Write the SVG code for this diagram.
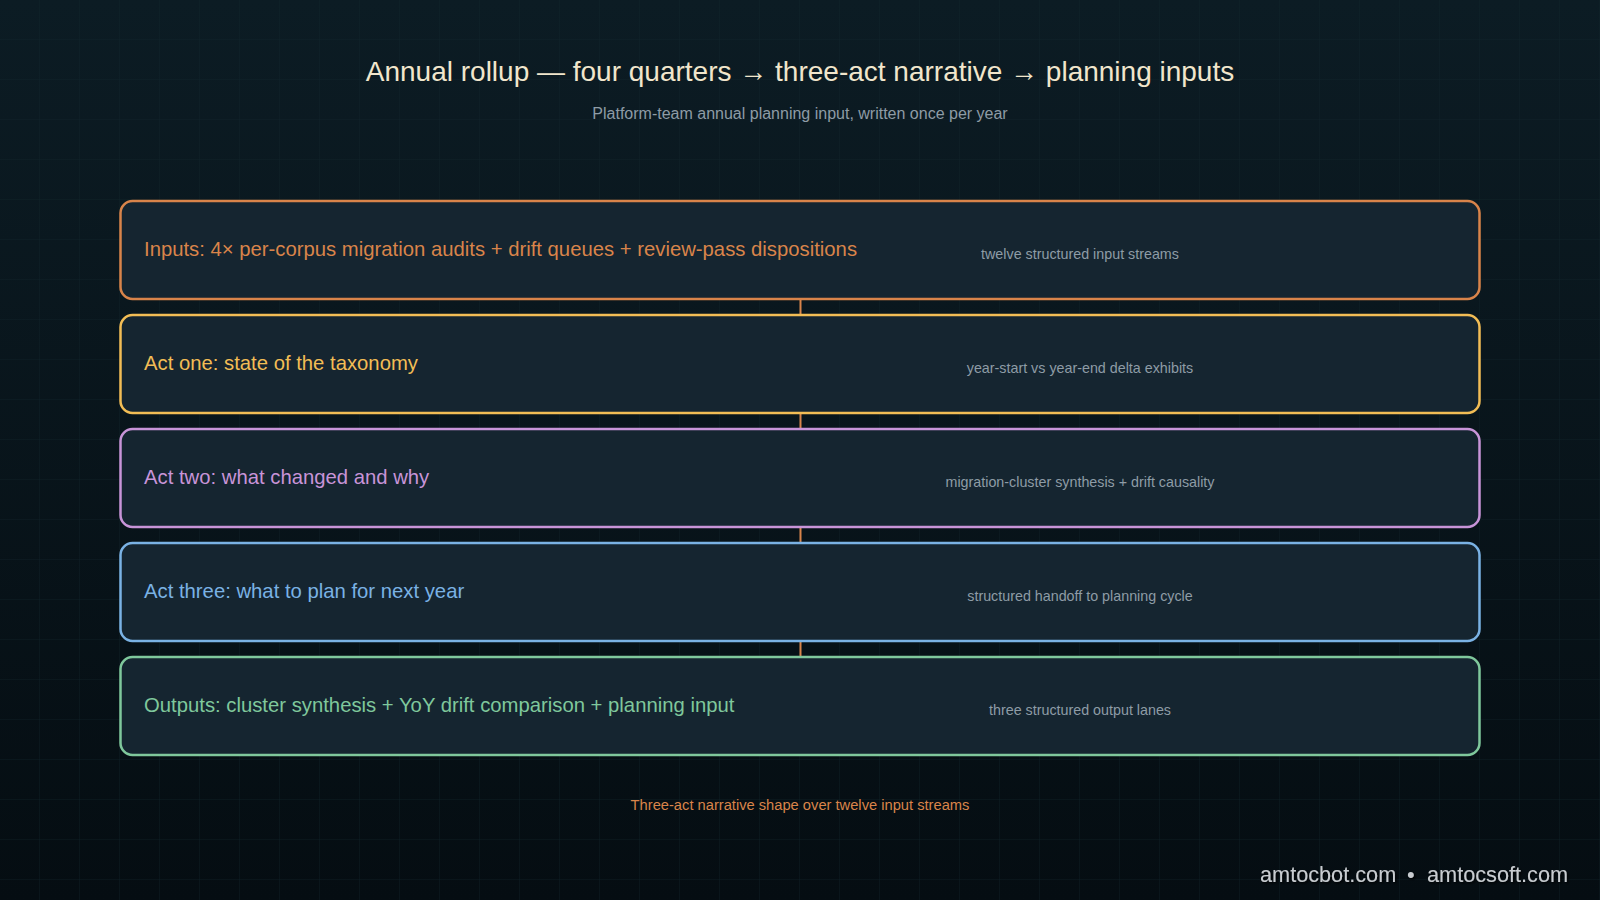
<svg xmlns="http://www.w3.org/2000/svg" width="1600" height="900" viewBox="0 0 1600 900">
  <defs>
    <linearGradient id="bg" x1="0" y1="0" x2="0" y2="1">
      <stop offset="0" stop-color="#0c1c24"/>
      <stop offset="1" stop-color="#050d12"/>
    </linearGradient>
    <pattern id="grid" x="0" y="0" width="40" height="40" patternUnits="userSpaceOnUse">
      <path d="M40 0 V40 M0 40 H40" fill="none" stroke="#13262f" stroke-width="1" opacity="0.6"/>
    </pattern>
    <filter id="shadow" x="-10%" y="-30%" width="120%" height="160%">
      <feDropShadow dx="1.5" dy="1.5" stdDeviation="0.8" flood-color="#000000" flood-opacity="0.9"/>
    </filter>
  </defs>
  <style>
    .box { fill: #152530; stroke-width: 2.5; }
    .lbl { font-family: "Liberation Sans", Arial, sans-serif; font-size: 20.3px; }
    .note { font-family: "Liberation Sans", Arial, sans-serif; font-size: 14.3px; fill: #8e9ca6; text-anchor: middle; }
    .conn { stroke: #d9844a; stroke-width: 2; fill: none; }
    .title { font-family: "Liberation Sans", Arial, sans-serif; font-size: 28px; fill: #f1e6cc; text-anchor: middle; }
    .sub { font-family: "Liberation Sans", Arial, sans-serif; font-size: 16px; fill: #8e9ca6; text-anchor: middle; }
    .cap { font-family: "Liberation Sans", Arial, sans-serif; font-size: 14.7px; fill: #d9844a; text-anchor: middle; }
    .foot { font-family: "Liberation Sans", Arial, sans-serif; font-size: 21.7px; fill: #c8ccd0; }
  </style>
  <rect x="0" y="0" width="1600" height="900" fill="url(#bg)"/>
  <rect x="0" y="0" width="1600" height="900" fill="url(#grid)"/>

  <text class="title" x="800" y="81">Annual rollup — four quarters → three-act narrative → planning inputs</text>
  <text class="sub" x="800" y="119">Platform-team annual planning input, written once per year</text>

  <g id="connectors">
    <line class="conn" x1="800.5" y1="300" x2="800.5" y2="314"/>
    <line class="conn" x1="800.5" y1="414" x2="800.5" y2="428"/>
    <line class="conn" x1="800.5" y1="528" x2="800.5" y2="542"/>
    <line class="conn" x1="800.5" y1="642" x2="800.5" y2="656"/>
  </g>

  <g id="node-inputs">
    <rect class="box" x="120.5" y="201" width="1359" height="98" rx="12" stroke="#d9844a"/>
    <text class="lbl" x="144" y="256" fill="#d9844a">Inputs: 4× per-corpus migration audits + drift queues + review-pass dispositions</text>
    <text class="note" x="1080" y="259">twelve structured input streams</text>
  </g>
  <g id="node-act-one">
    <rect class="box" x="120.5" y="315" width="1359" height="98" rx="12" stroke="#f2bd55"/>
    <text class="lbl" x="144" y="369.5" fill="#f2bd55">Act one: state of the taxonomy</text>
    <text class="note" x="1080" y="373">year-start vs year-end delta exhibits</text>
  </g>
  <g id="node-act-two">
    <rect class="box" x="120.5" y="429" width="1359" height="98" rx="12" stroke="#c894d8"/>
    <text class="lbl" x="144" y="483.5" fill="#c894d8">Act two: what changed and why</text>
    <text class="note" x="1080" y="487">migration-cluster synthesis + drift causality</text>
  </g>
  <g id="node-act-three">
    <rect class="box" x="120.5" y="543" width="1359" height="98" rx="12" stroke="#7ab2e4"/>
    <text class="lbl" x="144" y="597.5" fill="#7ab2e4">Act three: what to plan for next year</text>
    <text class="note" x="1080" y="601">structured handoff to planning cycle</text>
  </g>
  <g id="node-outputs">
    <rect class="box" x="120.5" y="657" width="1359" height="98" rx="12" stroke="#7fc89c"/>
    <text class="lbl" x="144" y="711.5" fill="#7fc89c">Outputs: cluster synthesis + YoY drift comparison + planning input</text>
    <text class="note" x="1080" y="715">three structured output lanes</text>
  </g>

  <text class="cap" x="800" y="810">Three-act narrative shape over twelve input streams</text>

  <text class="foot" y="882" filter="url(#shadow)"><tspan x="1260">amtocbot.com</tspan><tspan x="1407">•</tspan><tspan x="1427">amtocsoft.com</tspan></text>
</svg>
